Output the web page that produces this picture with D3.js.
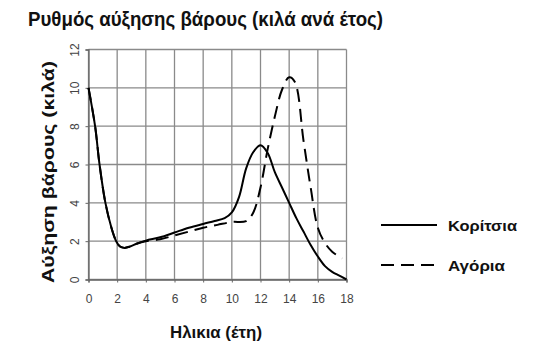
<!DOCTYPE html>
<html><head><meta charset="utf-8">
<script src="https://cdn.jsdelivr.net/npm/d3@7"></script>
<style>body{margin:0;background:#fff}</style>
</head><body>
<svg id="c" width="544" height="358"></svg>
<script>
const xTicks = [0,2,4,6,8,10,12,14,16,18];
const yTicks = [0,2,4,6,8,10,12];
const girlsAge = [0,0.46,0.77,1.18,1.6,1.93,2.2,2.5,2.9,3.4,4,5,6,7,8,8.8,9.5,10,10.5,11,11.5,12,12.5,13,13.5,14,14.5,15,15.5,16,16.5,17,17.5,18];
const girlsVal = [10,8,6,4,2.7,2,1.72,1.65,1.72,1.88,2.03,2.2,2.45,2.7,2.9,3.05,3.2,3.5,4.3,5.8,6.65,7,6.6,5.6,4.8,4.0,3.2,2.5,1.8,1.2,0.7,0.4,0.2,0];
const boysAge = [0,0.46,0.77,1.18,1.6,1.93,2.2,2.5,2.9,3.4,4,5,6,7,8,9,10,11,11.5,12,12.5,13,13.5,14,14.4,15,15.5,16,16.5,17,17.7];
const boysVal = [10,8,6,4,2.7,2,1.72,1.65,1.72,1.88,2.0,2.1,2.3,2.5,2.7,2.85,3.0,3.05,3.5,4.8,6.8,8.5,9.9,10.55,10.3,7.25,4.8,2.7,1.9,1.45,1.1];
const seriesNames = ["Κορίτσια","Αγόρια"];

const svg = d3.select("#c");
const x = d3.scaleLinear().domain([0,18]).range([88.5,346.5]);
const y = d3.scaleLinear().domain([0,12]).range([279.5,49.5]);

const grid = svg.append("g").attr("stroke","#8a8a8a").attr("stroke-width",1.3);
xTicks.forEach(t=>grid.append("line").attr("x1",x(t)).attr("x2",x(t)).attr("y1",y(0)).attr("y2",y(12)));
yTicks.forEach(t=>grid.append("line").attr("x1",x(0)).attr("x2",x(18)).attr("y1",y(t)).attr("y2",y(t)));

const tickFont = "Liberation Sans, Arial, sans-serif";
const ya = svg.append("g").attr("transform",`translate(${x(0)},0)`).call(d3.axisLeft(y).tickValues(yTicks).tickSize(3).tickPadding(11));
ya.select(".domain").attr("stroke","#666").attr("stroke-width",1.3);
ya.selectAll(".tick line").attr("stroke","#666");
ya.selectAll(".tick text").attr("font-family",tickFont).attr("font-size",12).attr("fill","#444")
  .attr("text-anchor","middle").attr("dy",null)
  .attr("transform","translate(-14,0) rotate(-90)").attr("x",0).attr("y",4);
const xa = svg.append("g").attr("transform",`translate(0,${y(0)})`).call(d3.axisBottom(x).tickValues(xTicks).tickSize(3).tickPadding(12));
xa.select(".domain").attr("stroke","#666").attr("stroke-width",1.3);
xa.selectAll(".tick line").attr("stroke","#666");
xa.selectAll(".tick text").attr("font-family",tickFont).attr("font-size",12).attr("fill","#444");

const line = d3.line().x(d=>x(d[0])).y(d=>y(d[1])).curve(d3.curveCatmullRom.alpha(0.5));
svg.append("path").datum(boysAge.map((a,i)=>[a,boysVal[i]])).attr("d",line)
  .attr("fill","none").attr("stroke","#000").attr("stroke-width",2).attr("stroke-dasharray","13,7");
svg.append("path").datum(girlsAge.map((a,i)=>[a,girlsVal[i]])).attr("d",line)
  .attr("fill","none").attr("stroke","#000").attr("stroke-width",2);

const bold = "Liberation Sans, Arial, sans-serif";
svg.append("text").attr("x",28).attr("y",26).attr("font-family",bold).attr("font-weight","bold")
  .attr("font-size",20).attr("textLength",355).attr("lengthAdjust","spacingAndGlyphs").attr("fill","#111").text("Ρυθμός αύξησης βάρους (κιλά ανά έτος)");
svg.append("text").attr("transform","translate(54,172) rotate(-90)").attr("text-anchor","middle")
  .attr("font-family",bold).attr("font-weight","bold").attr("font-size",17).attr("textLength",222).attr("lengthAdjust","spacingAndGlyphs").attr("fill","#111").text("Αύξηση βάρους (κιλά)");
svg.append("text").attr("x",170).attr("y",338)
  .attr("font-family",bold).attr("font-weight","bold").attr("font-size",17).attr("textLength",92).attr("lengthAdjust","spacingAndGlyphs").attr("fill","#111").text("Ηλικια (έτη)");

const lg = svg.append("g");
lg.append("line").attr("x1",381).attr("x2",437).attr("y1",225).attr("y2",225).attr("stroke","#000").attr("stroke-width",2);
lg.append("line").attr("x1",381).attr("x2",441).attr("y1",265).attr("y2",265).attr("stroke","#000").attr("stroke-width",2).attr("stroke-dasharray","13,7");
lg.append("text").attr("x",448).attr("y",231).attr("font-family",bold).attr("font-weight","bold").attr("font-size",15.5).attr("textLength",69).attr("lengthAdjust","spacingAndGlyphs").attr("fill","#111").text(seriesNames[0]);
lg.append("text").attr("x",448).attr("y",271).attr("font-family",bold).attr("font-weight","bold").attr("font-size",15.5).attr("textLength",57).attr("lengthAdjust","spacingAndGlyphs").attr("fill","#111").text(seriesNames[1]);
</script>
</body></html>
